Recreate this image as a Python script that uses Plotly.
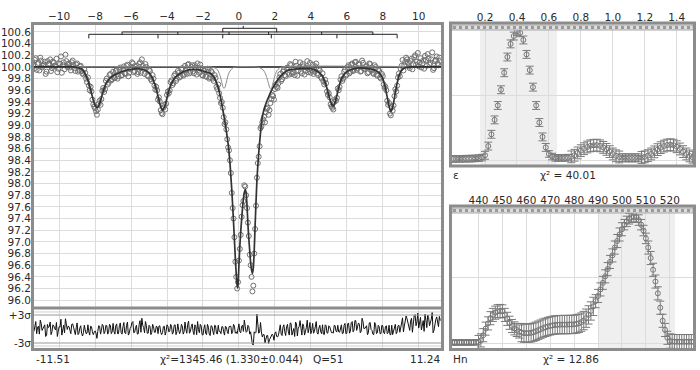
import numpy as np
import plotly.graph_objects as go

W, H = 700, 370
def fx(p): return p / W
def fy(p): return 1 - p / H

FONT = "DejaVu Sans"
GRID = "#dcdcdc"
FRAME = "#8c8c8c"
TXT = "#2a2a2a"

# ---------------- main Mossbauer spectrum ----------------
vel_range = [-11.51, 11.24]
vel_step = 0.1
# channels at -11.50, -11.40, ... 11.20
spectrum_start = -11.5
spectrum = [
    100.08, 99.97, 100.15, 100.05, 99.94, 100.11, 100.02, 100.09, 99.92, 100.04,
    100.13, 99.98, 100.07, 100.01, 99.91, 100.06, 100.18, 100.03, 99.96, 100.10,
    100.05, 99.99, 100.08, 100.03, 99.93, 100.06, 99.95, 100.02, 99.89, 99.96,
    99.80, 99.82, 99.60, 99.58, 99.36, 99.29, 99.18, 99.37, 99.35, 99.59,
    99.57, 99.76, 99.70, 99.86, 99.77, 99.92, 99.81, 99.95, 99.84, 99.99,
    99.86, 100.01, 99.88, 100.04, 99.90, 99.99, 100.06, 99.93, 100.02, 99.91,
    100.08, 100.13, 99.97, 100.05, 99.86, 99.95, 99.79, 99.86, 99.68, 99.66,
    99.44, 99.41, 99.21, 99.30, 99.27, 99.52, 99.55, 99.74, 99.69, 99.85,
    99.76, 99.93, 99.82, 99.96, 99.85, 100.02, 99.88, 100.05, 99.92, 100.03,
    99.89, 99.99, 100.06, 99.90, 99.98, 99.85, 99.96, 99.83, 99.92, 99.82,
    99.91, 99.76, 99.81, 99.62, 99.55, 99.38, 99.30, 99.02, 98.93, 98.62,
    98.40, 97.84, 97.40, 96.66, 96.20, 96.68, 97.12, 97.63, 97.97, 97.80,
    97.33, 96.78, 96.40, 96.25, 97.22, 98.10, 98.46, 98.95, 99.05, 99.15,
    99.22, 99.30, 99.26, 99.45, 99.50, 99.62, 99.66, 99.72, 99.88, 99.79,
    99.95, 99.84, 99.99, 99.87, 100.03, 99.91, 99.86, 100.02, 99.94, 100.08,
    99.89, 100.01, 99.93, 100.10, 99.96, 99.90, 100.04, 99.92, 100.06, 99.86,
    99.94, 99.80, 99.75, 99.78, 99.58, 99.55, 99.36, 99.30, 99.40, 99.42,
    99.63, 99.66, 99.84, 99.80, 99.95, 99.87, 100.03, 99.92, 100.06, 99.95,
    100.09, 99.98, 100.04, 99.93, 100.07, 99.96, 100.02, 99.91, 100.05, 99.94,
    99.88, 100.00, 99.85, 99.93, 99.80, 99.84, 99.64, 99.60, 99.35, 99.20,
    99.31, 99.34, 99.62, 99.68, 99.89, 99.97, 100.12, 100.03, 100.16, 100.07,
    99.98, 100.14, 100.05, 100.20, 100.09, 100.01, 100.15, 100.06, 99.97, 100.12,
    100.22, 100.04, 100.13, 99.95, 100.10, 100.18, 100.03, 100.11,
]
# channels at -11.45, -11.35, ... 11.15
spectrum_mid_start = -11.45
spectrum_mid = [
    100.03, 100.12, 99.95, 100.07, 100.16, 99.99, 100.04, 99.88, 100.10, 100.06,
    99.93, 100.09, 100.02, 100.14, 99.97, 100.05, 99.90, 100.08, 100.21, 100.00,
    100.06, 99.94, 100.11, 99.98, 100.04, 99.92, 100.01, 99.93, 99.87, 99.90,
    99.74, 99.68, 99.66, 99.44, 99.32, 99.24, 99.27, 99.42, 99.45, 99.64,
    99.62, 99.80, 99.73, 99.88, 99.79, 99.81, 99.93, 99.80, 99.96, 99.85,
    99.97, 99.89, 100.02, 99.84, 99.96, 100.08, 99.91, 100.00, 99.88, 100.05,
    99.90, 100.02, 99.88, 100.00, 99.84, 99.93, 99.76, 99.80, 99.61, 99.60,
    99.48, 99.26, 99.19, 99.35, 99.37, 99.58, 99.60, 99.77, 99.72, 99.88,
    99.80, 99.90, 99.84, 99.98, 99.87, 99.94, 100.04, 99.89, 100.00, 99.92,
    100.03, 99.87, 99.95, 100.04, 99.86, 99.94, 99.84, 99.97, 99.80, 99.93,
    99.80, 99.86, 99.66, 99.70, 99.47, 99.40, 99.14, 99.05, 98.76, 98.57,
    98.18, 97.58, 97.08, 96.40, 96.31, 96.88, 97.43, 97.70, 97.95, 97.58,
    97.10, 96.60, 96.15, 96.80, 97.62, 98.35, 98.64, 98.98, 99.10, 99.05,
    99.28, 99.18, 99.38, 99.52, 99.44, 99.70, 99.64, 99.82, 99.76, 99.92,
    99.86, 99.98, 99.90, 100.05, 99.88, 99.97, 100.09, 99.85, 99.99, 99.92,
    100.05, 99.87, 99.99, 99.91, 100.07, 99.94, 99.88, 100.01, 99.89, 99.97,
    99.83, 99.89, 99.70, 99.72, 99.52, 99.48, 99.32, 99.27, 99.44, 99.47,
    99.60, 99.78, 99.76, 99.92, 99.85, 100.00, 99.89, 100.04, 99.93, 100.08,
    99.95, 100.05, 99.92, 100.11, 99.97, 100.00, 99.89, 100.06, 99.96, 99.90,
    100.03, 99.87, 99.96, 99.82, 99.88, 99.70, 99.66, 99.42, 99.38, 99.17,
    99.25, 99.50, 99.58, 99.82, 99.84, 100.02, 99.94, 100.09, 100.13, 100.01,
    100.10, 99.96, 100.17, 100.04, 100.24, 100.08, 99.99, 100.11, 100.19, 100.02,
    100.15, 100.07, 100.25, 99.98, 100.12, 100.06, 100.16,
]
residuals = [
    0.8, -0.5, 1.6, 0.4, -1.1, 1.2, 0.1, 0.9, -1.4, 0.3,
    1.5, -0.6, 0.7, -0.2, -1.6, 0.5, 2.1, 0.2, -0.8, 1.1,
    0.6, -0.3, 1.0, 0.4, -1.2, 1.3, -0.9, 0.7, -1.5, 0.8,
    -1.0, 0.9, -1.3, 0.5, -1.2, -0.4, -2.0, 0.7, -1.1, 1.0,
    -1.0, 0.8, -1.1, 1.0, -1.0, 1.2, -1.1, 1.1, -1.0, 1.3,
    -1.1, 1.4, -1.0, 1.5, -0.9, 0.5, 1.6, -0.7, 0.8, -1.0,
    1.8, 2.3, 0.3, 1.6, -0.9, 0.8, -1.2, 1.0, -0.7, 0.6,
    -1.0, 0.7, -1.2, 0.5, -1.3, 0.9, -0.6, 1.0, -1.1, 0.8,
    -1.2, 1.1, -1.0, 1.0, -1.1, 1.5, -0.9, 1.7, -0.5, 1.1,
    -1.2, 0.5, 1.6, -0.8, 0.7, -1.3, 0.9, -1.2, 0.4, -1.4,
    0.6, -1.2, 0.7, -1.1, -0.5, -1.0, 0.5, -1.3, 0.4, -1.0,
    0.6, -1.0, 1.0, -0.9, -1.0, 1.1, -0.8, 0.8, 1.9, -0.7,
    0.8, -1.1, -1.9, -3.4, -0.9, 3.2, -0.9, 1.4, -1.7, -1.2,
    -2.2, -1.4, -2.3, -1.2, -1.4, -0.9, -1.6, -1.3, 0.9, -1.4,
    0.9, -1.4, 1.0, -1.3, 1.2, -0.8, -1.6, 1.1, 0.2, 1.8,
    -1.3, 0.6, -0.6, 1.9, 0.1, -1.0, 1.2, -0.5, 1.6, -1.1,
    0.8, -1.0, -1.1, 0.9, -0.9, 0.7, -0.6, -0.7, 0.8, -0.5,
    0.8, -0.7, 0.9, -0.9, 1.2, -0.9, 1.3, -0.5, 1.6, -0.2,
    1.8, 0.3, 1.0, -0.5, 1.6, 0.1, 0.7, -0.8, 1.4, -0.3,
    -1.2, 1.0, -0.8, 0.5, -1.0, 0.7, -1.0, 0.7, -0.8, -1.2,
    0.8, -0.6, 1.0, -0.6, 0.8, 0.8, 2.4, 0.6, 2.8, 1.2,
    -0.3, 2.3, 0.8, 3.1, 1.5, 0.2, 2.5, 0.9, -0.5, 1.9,
    3.0, 0.7, 2.1, -0.8, 1.6, 2.6, 0.5, 1.8,
]
residuals_mid = [
    -0.4, 1.3, -1.0, 0.6, 1.9, -0.3, 0.4, -1.6, 1.0, 0.5,
    -1.2, 0.9, 0.1, 1.4, -0.5, 0.4, -1.3, 0.8, 2.2, -0.1,
    0.5, -1.0, 1.1, -0.4, 0.3, -1.2, 0.2, -0.9, -0.8, -0.2,
    -0.9, -0.6, 0.6, -0.6, -0.7, -0.9, -0.5, 0.6, -0.3, 0.7,
    -0.6, 0.7, -0.7, 0.8, -0.6, -0.5, 0.7, -1.0, 0.7, -0.8,
    0.5, -0.8, 0.8, -1.3, 0.1, 1.4, -0.8, 0.3, -1.1, 1.0,
    -0.7, 0.8, -0.8, 0.8, -0.9, 0.6, -0.8, 0.5, -0.7, 0.5,
    0.6, -0.7, -0.8, 0.6, -0.5, 0.6, -0.5, 0.6, -0.7, 0.9,
    -0.6, -0.2, -0.5, 0.6, -0.6, -0.1, 1.0, -0.9, 0.5, -0.5,
    0.9, -1.2, -0.1, 1.0, -1.2, 0.1, -1.0, 1.0, -1.1, 0.7,
    -0.5, 0.8, -0.9, 0.8, -0.5, 0.5, -0.6, 0.6, -0.5, 0.5,
    0.6, -0.6, 0.6, -0.6, 0.7, -0.6, 0.6, -0.5, 0.6, -0.5,
    0.5, -0.6, -3.3, -0.6, -0.7, 0.6, -0.7, -0.6, -1.2, -3.0,
    -1.4, -3.1, -1.8, -1.1, -2.4, -0.6, -1.7, -0.2, -1.1, 0.4,
    -0.6, 0.5, -0.6, 1.3, -1.3, 0.1, 1.5, -1.5, 0.5, -0.7,
    1.1, -1.3, 0.3, -0.8, 1.4, -0.3, -0.9, 0.6, -0.8, 0.2,
    -0.6, 0.9, -1.2, 0.7, -0.8, 0.5, -0.8, -0.9, 0.7, -0.6,
    -0.6, 0.5, -1.0, 0.8, -1.0, 1.1, -0.9, 1.4, -0.6, 1.8,
    -0.3, 1.3, -0.8, 2.3, 0.1, 0.5, -1.2, 1.3, -0.1, -1.1,
    1.4, -1.0, 0.8, -1.0, 0.8, -0.8, 0.5, -1.0, 0.8, -1.2,
    -1.2, 0.5, -1.0, 0.7, -0.7, 1.3, -0.6, 1.6, 2.2, 0.2,
    1.7, -0.7, 2.9, 0.7, 3.4, 1.4, -0.2, 1.8, 3.2, 0.3,
    2.5, 1.2, 3.6, -0.3, 2.0, 1.0, 2.7,
]
fit_v = [-11.51, -9.2, -9.0, -8.8, -8.7, -8.6, -8.5, -8.4, -8.3, -8.2, -8.1, -8.0, -7.9, -7.8, -7.7,
         -7.6, -7.5, -7.4, -7.3, -7.2, -7.0, -6.8, -6.6, -6.4, -6.2, -6.0, -5.7, -5.4, -5.2, -5.0,
         -4.9, -4.8, -4.7, -4.6, -4.5, -4.4, -4.3, -4.25, -4.2, -4.1, -4.0, -3.9, -3.8, -3.7, -3.6,
         -3.4, -3.2, -3.0, -2.8, -2.5, -2.2, -2.0, -1.8, -1.6, -1.5, -1.4, -1.3, -1.2, -1.1, -1.0,
         -0.9, -0.8, -0.7, -0.6, -0.5, -0.45, -0.4, -0.35, -0.3, -0.25, -0.2, -0.15, -0.1, -0.07, -0.04,
         0.0, 0.05, 0.1, 0.15, 0.2, 0.25, 0.3, 0.35, 0.4, 0.45, 0.5, 0.55, 0.6, 0.65, 0.7,
         0.75, 0.8, 0.85, 0.9, 0.95, 1.0, 1.05, 1.1, 1.15, 1.2, 1.26, 1.3, 1.4, 1.5, 1.6,
         1.7, 1.8, 1.9, 2.0, 2.2, 2.4, 2.6, 2.8, 3.0, 3.5, 4.0, 4.2, 4.4, 4.6, 4.7,
         4.8, 4.9, 5.0, 5.1, 5.2, 5.25, 5.3, 5.4, 5.5, 5.6, 5.7, 5.8, 6.0, 6.3, 6.6,
         7.0, 7.4, 7.6, 7.8, 7.9, 8.0, 8.1, 8.2, 8.3, 8.4, 8.45, 8.5, 8.6, 8.7, 8.8,
         8.9, 9.0, 9.1, 9.3, 9.6, 11.24]
fit_y = [100.00, 100.00, 99.99, 99.97, 99.95, 99.91, 99.85, 99.77, 99.67, 99.55, 99.43, 99.34, 99.30, 99.33, 99.42,
         99.53, 99.63, 99.71, 99.76, 99.80, 99.85, 99.88, 99.91, 99.93, 99.95, 99.96, 99.97, 99.96, 99.94, 99.90,
         99.86, 99.80, 99.72, 99.62, 99.50, 99.37, 99.28, 99.26, 99.27, 99.35, 99.47, 99.59, 99.68, 99.75, 99.80,
         99.86, 99.90, 99.93, 99.95, 99.96, 99.95, 99.93, 99.91, 99.89, 99.87, 99.83, 99.77, 99.69, 99.58, 99.44,
         99.27, 99.10, 98.90, 98.68, 98.36, 98.13, 97.90, 97.63, 97.34, 97.03, 96.72, 96.45, 96.26, 96.21, 96.30,
         96.60, 96.93, 97.17, 97.38, 97.58, 97.74, 97.85, 97.90, 97.84, 97.62, 97.30, 97.06, 96.85, 96.65, 96.52,
         96.46, 96.55, 96.85, 97.28, 97.68, 98.05, 98.30, 98.52, 98.70, 98.87, 99.06, 99.14, 99.28, 99.37, 99.45,
         99.52, 99.59, 99.65, 99.70, 99.80, 99.87, 99.92, 99.95, 99.96, 99.97, 99.97, 99.95, 99.92, 99.86, 99.81,
         99.73, 99.63, 99.51, 99.40, 99.34, 99.33, 99.35, 99.45, 99.58, 99.70, 99.79, 99.85, 99.92, 99.96, 99.98,
         99.98, 99.96, 99.94, 99.90, 99.86, 99.80, 99.70, 99.56, 99.40, 99.27, 99.24, 99.26, 99.38, 99.56, 99.72,
         99.84, 99.92, 99.96, 99.99, 100.00, 100.00]
doublet_v = [-11.51, -1.6, -1.4, -1.25, -1.15, -1.05, -0.95, -0.88, -0.83, -0.78, -0.7, -0.6, -0.5, -0.35, -0.2,
             1.0, 1.2, 1.35, 1.45, 1.55, 1.65, 1.72, 1.77, 1.82, 1.9, 2.0, 2.1, 2.25, 2.4, 11.24]
doublet_y = [100.0, 100.0, 99.99, 99.97, 99.93, 99.85, 99.73, 99.65, 99.63, 99.65, 99.74, 99.86, 99.93, 99.98, 100.0,
             100.0, 99.98, 99.95, 99.90, 99.82, 99.71, 99.64, 99.62, 99.64, 99.73, 99.85, 99.93, 99.98, 100.0, 100.0]
baseline_level = 100.0

# stick diagrams of the sub-spectra
sextet_a = [-8.35, -4.5, -0.9, 1.8, 5.45, 8.8]
sextet_a_levels = [100.56, 100.49]
sextet_b = [-6.5, -3.4, -0.55, 1.65, 4.6, 7.45]
sextet_b_levels = [100.60, 100.55]
doublet_lines = [-0.9, 2.1]
doublet_levels = [100.663, 100.594]
doublet_centre = [0.24]
doublet_centre_levels = [100.705, 100.663]

# ---------------- epsilon distribution ----------------
eps_step = 0.02
eps_values = [
    0.012, 0.012, 0.013, 0.013, 0.014, 0.014, 0.015, 0.016, 0.018, 0.022,
    0.04, 0.11, 0.20, 0.31, 0.42, 0.54, 0.67, 0.79, 0.89, 0.95,
    0.985, 0.975, 0.92, 0.81, 0.69, 0.56, 0.42, 0.29, 0.18, 0.10,
    0.05, 0.03, 0.02, 0.02, 0.02, 0.02, 0.022, 0.028, 0.04, 0.058,
    0.075, 0.09, 0.103, 0.112, 0.116, 0.117, 0.112, 0.10, 0.085, 0.068,
    0.05, 0.036, 0.027, 0.022, 0.02, 0.02, 0.02, 0.02, 0.021, 0.023,
    0.028, 0.037, 0.05, 0.066, 0.083, 0.098, 0.11, 0.118, 0.12, 0.117,
    0.105, 0.088, 0.068, 0.05, 0.035, 0.025,
]
eps_errors = [
    0.025, 0.025, 0.025, 0.025, 0.025, 0.025, 0.025, 0.025, 0.025, 0.025,
    0.03, 0.03, 0.03, 0.03, 0.03, 0.03, 0.03, 0.03, 0.03, 0.03,
    0.03, 0.03, 0.03, 0.03, 0.03, 0.03, 0.03, 0.03, 0.03, 0.03,
    0.025, 0.025, 0.025, 0.025, 0.025, 0.025, 0.025, 0.045, 0.045, 0.045,
    0.045, 0.045, 0.045, 0.045, 0.045, 0.045, 0.045, 0.045, 0.045, 0.045,
    0.045, 0.045, 0.045, 0.03, 0.03, 0.03, 0.03, 0.03, 0.03, 0.045,
    0.045, 0.045, 0.045, 0.045, 0.045, 0.045, 0.045, 0.045, 0.045, 0.045,
    0.045, 0.045, 0.045, 0.045, 0.045, 0.045,
]
eps_window = [0.168, 0.65]
eps_range = [-0.013, 1.502]

# ---------------- hyperfine field distribution ----------------
hn_start = 428
hn_values = [
    0.004, 0.005, 0.005, 0.004, 0.005, 0.005, 0.005, 0.004, 0.005, 0.005,
    0.005, 0.005, 0.008, 0.02, 0.06, 0.11, 0.15, 0.19, 0.215, 0.232,
    0.243, 0.245, 0.242, 0.215, 0.185, 0.155, 0.13, 0.112, 0.10, 0.088,
    0.08, 0.076, 0.075, 0.076, 0.078, 0.083, 0.09, 0.098, 0.106, 0.114,
    0.12, 0.126, 0.131, 0.135, 0.138, 0.14, 0.141, 0.141, 0.141, 0.141,
    0.142, 0.142, 0.143, 0.146, 0.151, 0.16, 0.172, 0.19, 0.215, 0.245,
    0.28, 0.32, 0.36, 0.41, 0.46, 0.51, 0.565, 0.62, 0.67, 0.73,
    0.78, 0.83, 0.87, 0.905, 0.93, 0.95, 0.962, 0.966, 0.962, 0.94,
    0.905, 0.86, 0.80, 0.73, 0.65, 0.56, 0.47, 0.38, 0.27, 0.17,
    0.10, 0.04, 0.015, 0.012, 0.01, 0.01, 0.01, 0.01, 0.01, 0.01,
    0.01, 0.01, 0.01,
]
hn_errors = [
    0.02, 0.02, 0.02, 0.02, 0.02, 0.02, 0.02, 0.02, 0.02, 0.02,
    0.02, 0.02, 0.05, 0.05, 0.05, 0.05, 0.05, 0.05, 0.05, 0.05,
    0.05, 0.05, 0.05, 0.05, 0.05, 0.05, 0.05, 0.05, 0.05, 0.05,
    0.07, 0.07, 0.07, 0.07, 0.07, 0.07, 0.07, 0.07, 0.07, 0.07,
    0.07, 0.07, 0.07, 0.07, 0.07, 0.07, 0.07, 0.07, 0.07, 0.07,
    0.07, 0.07, 0.07, 0.07, 0.07, 0.07, 0.07, 0.07, 0.07, 0.07,
    0.07, 0.05, 0.05, 0.05, 0.05, 0.05, 0.05, 0.05, 0.05, 0.05,
    0.05, 0.05, 0.05, 0.04, 0.04, 0.04, 0.04, 0.04, 0.04, 0.04,
    0.04, 0.04, 0.04, 0.05, 0.05, 0.05, 0.05, 0.05, 0.05, 0.05,
    0.05, 0.05, 0.055, 0.055, 0.055, 0.055, 0.055, 0.055, 0.055, 0.055,
    0.055, 0.055, 0.055,
]
hn_window = [490.0, 522.2]
hn_range = [428.5, 529.7]

assert len(spectrum) == len(residuals) == 228
assert len(spectrum_mid) == len(residuals_mid) == 227
assert len(fit_v) == len(fit_y) and len(doublet_v) == len(doublet_y)
assert len(eps_values) == len(eps_errors) == 76
assert len(hn_values) == len(hn_errors) == 103

vel_a = spectrum_start + vel_step * np.arange(len(spectrum))
vel_b = spectrum_mid_start + vel_step * np.arange(len(spectrum_mid))
vel_all = np.concatenate([vel_a, vel_b])
order = np.argsort(vel_all)
vel = np.round(vel_all[order], 3)
counts = np.concatenate([spectrum, spectrum_mid])[order]
resid = np.concatenate([residuals, residuals_mid])[order]

eps_x = np.round(eps_step * np.arange(len(eps_values)), 2)
hn_x = hn_start + np.arange(len(hn_values))


def sticks(pos, levels):
    top, bottom = levels
    xs, ys = [pos[0], pos[-1], None], [top, top, None]
    for p in pos:
        xs += [p, p, None]
        ys += [top, bottom, None]
    return xs, ys


fig = go.Figure()

# main panel
fig.add_trace(go.Scatter(x=vel_range, y=[baseline_level, baseline_level], mode="lines",
                         line=dict(color="#505050", width=2), xaxis="x", yaxis="y", hoverinfo="skip"))
fig.add_trace(go.Scatter(x=vel, y=counts, mode="markers", xaxis="x", yaxis="y",
                         marker=dict(symbol="circle-open", size=5, color="#707070", line=dict(width=1))))
fig.add_trace(go.Scatter(x=doublet_v, y=doublet_y, mode="lines", xaxis="x", yaxis="y",
                         line=dict(color="#8a8a8a", width=1, shape="spline", smoothing=0.7)))
fig.add_trace(go.Scatter(x=fit_v, y=fit_y, mode="lines", xaxis="x", yaxis="y",
                         line=dict(color="#333333", width=1.7, shape="spline", smoothing=0.6)))
for pos, lev in [(sextet_a, sextet_a_levels), (sextet_b, sextet_b_levels),
                 (doublet_lines, doublet_levels)]:
    xs, ys = sticks(pos, lev)
    fig.add_trace(go.Scatter(x=xs, y=ys, mode="lines", xaxis="x", yaxis="y",
                             line=dict(color="#222", width=1), hoverinfo="skip"))
fig.add_trace(go.Scatter(x=[doublet_centre[0], doublet_centre[0]], y=doublet_centre_levels, mode="lines",
                         xaxis="x", yaxis="y", line=dict(color="#222", width=1), hoverinfo="skip"))

# residuals
fig.add_trace(go.Scatter(x=vel, y=resid, mode="lines", xaxis="x2", yaxis="y2",
                         line=dict(color="#111", width=1)))

# epsilon distribution
fig.add_trace(go.Scatter(x=eps_x, y=eps_values, mode="markers", xaxis="x3", yaxis="y3",
                         marker=dict(symbol="circle-open", size=5, color="#777", line=dict(width=1)),
                         error_y=dict(type="data", array=eps_errors, color="#7a7a7a", thickness=1, width=4)))
# Hn distribution
fig.add_trace(go.Scatter(x=hn_x, y=hn_values, mode="markers", xaxis="x4", yaxis="y4",
                         marker=dict(symbol="circle-open", size=5, color="#777", line=dict(width=1)),
                         error_y=dict(type="data", array=hn_errors, color="#7a7a7a", thickness=1, width=4)))

tf = dict(family=FONT, size=10.5, color=TXT)
common = dict(showline=False, zeroline=False, ticks="", gridcolor=GRID, gridwidth=1, tickfont=tf)

x_main = [fx(32), fx(441)]
x_right = [fx(451), fx(693)]

fig.update_layout(
    width=W, height=H, margin=dict(l=0, r=0, t=0, b=0),
    paper_bgcolor="white", plot_bgcolor="white", showlegend=False,
    font=dict(family=FONT, size=10.5, color=TXT),
    xaxis=dict(domain=x_main, range=vel_range, side="top", anchor="y",
               tickvals=list(range(-10, 11, 2)), **common),
    yaxis=dict(domain=[fy(307), fy(23)], range=[95.883, 100.754], anchor="x",
               tickvals=[round(96.0 + 0.2 * k, 1) for k in range(24)], tickformat=".1f", **common),
    xaxis2=dict(domain=x_main, range=vel_range, anchor="y2", showticklabels=False,
                tickvals=list(range(-10, 11, 2)), **common),
    yaxis2=dict(domain=[fy(348), fy(309)], range=[-4.07, 4.29], anchor="x2",
                tickvals=[3, -3], ticktext=["+3σ", "-3σ"], showgrid=False,
                **{k: v for k, v in common.items() if k != "gridcolor"}),
    xaxis3=dict(domain=x_right, range=eps_range, side="top", anchor="y3",
                tickvals=[0.2, 0.4, 0.6, 0.8, 1.0, 1.2, 1.4], tickformat=".1f", **common),
    yaxis3=dict(domain=[fy(166), fy(24)], range=[-0.042, 1.042], anchor="x3",
                tickvals=[0, 0.5], showticklabels=False, **common),
    xaxis4=dict(domain=x_right, range=hn_range, side="top", anchor="y4",
                tickvals=list(range(440, 521, 10)), **common),
    yaxis4=dict(domain=[fy(348), fy(207)], range=[-0.038, 1.04], anchor="x4",
                tickvals=[0, 0.5], showticklabels=False, **common),
)

shapes = []
shapes.append(dict(type="rect", xref="x3", yref="y3 domain", x0=eps_window[0], x1=eps_window[1], y0=0, y1=1,
                   fillcolor="#efefef", line=dict(width=0), layer="below"))
shapes.append(dict(type="rect", xref="x4", yref="y4 domain", x0=hn_window[0], x1=hn_window[1], y0=0, y1=1,
                   fillcolor="#efefef", line=dict(width=0), layer="below"))
for lv, col in [(3, "#9a9a9a"), (-3, "#9a9a9a"), (3.65, "#cfcfcf"), (-3.65, "#cfcfcf")]:
    shapes.append(dict(type="line", xref="x2 domain", yref="y2", x0=0, x1=1, y0=lv, y1=lv,
                       line=dict(color=col, width=1)))
for y0, y1 in [(25, 30), (208, 213)]:
    shapes.append(dict(type="rect", xref="paper", yref="paper", x0=fx(452), x1=fx(693), y0=fy(y1), y1=fy(y0),
                       fillcolor="#dedede", line=dict(color="#a8a8a8", width=1)))
    shapes.append(dict(type="line", xref="paper", yref="paper", x0=fx(453), x1=fx(692),
                       y0=fy((y0 + y1) / 2), y1=fy((y0 + y1) / 2), line=dict(color="#9a9a9a", width=3, dash="dot")))
for x0, x1, y0, y1 in [(32.5, 442.5, 23.5, 349.5), (450.5, 694.5, 23, 166), (450.5, 694.5, 206, 349.5)]:
    shapes.append(dict(type="rect", xref="paper", yref="paper", x0=fx(x0), x1=fx(x1), y0=fy(y1), y1=fy(y0),
                       line=dict(color=FRAME, width=3), fillcolor="rgba(0,0,0,0)"))
shapes.append(dict(type="line", xref="paper", yref="paper", x0=fx(32.5), x1=fx(442.5), y0=fy(308), y1=fy(308),
                   line=dict(color=FRAME, width=3)))
fig.update_layout(shapes=shapes)

ann = []
def label(text, x, y, anchor):
    ann.append(dict(text=text, x=fx(x), y=fy(y), xref="paper", yref="paper", xanchor=anchor, yanchor="middle",
                    showarrow=False, font=dict(family=FONT, size=10.5, color=TXT)))

label("-11.51", 34, 359, "left")
label("χ²=1345.46 (1.330±0.044)\u00a0\u00a0 Q=51", 251, 359, "center")
label("11.24", 442, 359, "right")
label("ε", 451, 175, "left")
label("χ² = 40.01", 568, 175, "center")
label("Hn", 451, 359, "left")
label("χ² = 12.86", 571, 359, "center")
fig.update_layout(annotations=ann)

fig.write_html("out.html", config={"displayModeBar": False},
               post_script="document.body.style.margin='0px';document.body.style.overflow='hidden';")
